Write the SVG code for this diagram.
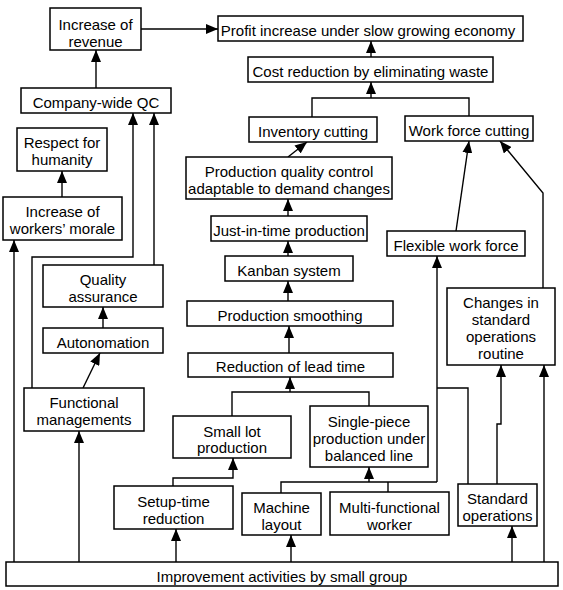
<svg xmlns="http://www.w3.org/2000/svg" width="563" height="590" viewBox="0 0 563 590">
<style>
.box{fill:#fff;stroke:#000;stroke-width:1.5}
.t{font-family:"Liberation Sans",Arial,sans-serif;font-size:15px;fill:#000;text-anchor:middle}
.c{fill:none;stroke:#000;stroke-width:1.4}
</style>
<defs>
<marker id="ah" markerUnits="userSpaceOnUse" markerWidth="12" markerHeight="10" refX="12" refY="5" orient="auto">
<path d="M0,0 L12,5 L0,10 z" fill="#000"/>
</marker>
</defs>
<rect width="563" height="590" fill="#fff"/>
<g id="connectors">
<path class="c" d="M141,29 H218" marker-end="url(#ah)"/>
<path class="c" d="M96,88 V50" marker-end="url(#ah)"/>
<path class="c" d="M62,197 V171" marker-end="url(#ah)"/>
<path class="c" d="M14,562 V240" marker-end="url(#ah)"/>
<path class="c" d="M32,388 V257 H133 V113" marker-end="url(#ah)"/>
<path class="c" d="M154,265 V113" marker-end="url(#ah)"/>
<path class="c" d="M103,328 V307" marker-end="url(#ah)"/>
<path class="c" d="M83,388 L100,353" marker-end="url(#ah)"/>
<path class="c" d="M79,562 V431" marker-end="url(#ah)"/>
<path class="c" d="M371,57 V41" marker-end="url(#ah)"/>
<path class="c" d="M312,117 V98 H469 V116"/>
<path class="c" d="M371,98 V82" marker-end="url(#ah)"/>
<path class="c" d="M288,157 L307,142" marker-end="url(#ah)"/>
<path class="c" d="M288,216 V199" marker-end="url(#ah)"/>
<path class="c" d="M288,256 V241" marker-end="url(#ah)"/>
<path class="c" d="M288,301 V281" marker-end="url(#ah)"/>
<path class="c" d="M289,353 V326" marker-end="url(#ah)"/>
<path class="c" d="M232,416 V392 H369 V406"/>
<path class="c" d="M290,392 V377" marker-end="url(#ah)"/>
<path class="c" d="M173,486 V478 H233 V458" marker-end="url(#ah)"/>
<path class="c" d="M176,562 V529" marker-end="url(#ah)"/>
<path class="c" d="M281,493 V482 H437"/>
<path class="c" d="M388,482 V492"/>
<path class="c" d="M369,482 V467" marker-end="url(#ah)"/>
<path class="c" d="M437,482 V256" marker-end="url(#ah)"/>
<path class="c" d="M468,484 V388 H437"/>
<path class="c" d="M497,484 V424 H501 V365" marker-end="url(#ah)"/>
<path class="c" d="M512,562 V526" marker-end="url(#ah)"/>
<path class="c" d="M544,562 V365" marker-end="url(#ah)"/>
<path class="c" d="M456,231 L469,141" marker-end="url(#ah)"/>
<path class="c" d="M543,288 V193 L500,141" marker-end="url(#ah)"/>
<path class="c" d="M291,562 V535" marker-end="url(#ah)"/>
</g>
<g id="n-revenue"><rect class="box" x="50" y="8" width="91" height="42"/><text class="t" x="95.5" y="30">Increase of</text><text class="t" x="95.5" y="47">revenue</text></g>
<g id="n-profit"><rect class="box" x="218" y="16" width="305" height="25"/><text class="t" x="368" y="36">Profit increase under slow growing economy</text></g>
<g id="n-cost"><rect class="box" x="248" y="57" width="245" height="25"/><text class="t" x="370.5" y="77">Cost reduction by eliminating waste</text></g>
<g id="n-cqc"><rect class="box" x="21" y="88" width="150" height="25"/><text class="t" x="96" y="108">Company-wide QC</text></g>
<g id="n-inventory"><rect class="box" x="249" y="117" width="128" height="25"/><text class="t" x="313" y="137">Inventory cutting</text></g>
<g id="n-workforce"><rect class="box" x="405" y="116" width="128" height="25"/><text class="t" x="469" y="136">Work force cutting</text></g>
<g id="n-respect"><rect class="box" x="17" y="128" width="90" height="43"/><text class="t" x="62" y="148">Respect for</text><text class="t" x="62" y="165">humanity</text></g>
<g id="n-pqc"><rect class="box" x="186" y="157" width="206" height="42"/><text class="t" x="289" y="177">Production quality control</text><text class="t" x="289" y="194">adaptable to demand changes</text></g>
<g id="n-morale"><rect class="box" x="3" y="197" width="119" height="43"/><text class="t" x="62.5" y="217">Increase of</text><text class="t" x="62.5" y="234">workers’ morale</text></g>
<g id="n-jit"><rect class="box" x="211" y="216" width="156" height="25"/><text class="t" x="289" y="236">Just-in-time production</text></g>
<g id="n-flexible"><rect class="box" x="387" y="231" width="138" height="25"/><text class="t" x="456" y="251">Flexible work force</text></g>
<g id="n-kanban"><rect class="box" x="225" y="256" width="128" height="25"/><text class="t" x="289" y="276">Kanban system</text></g>
<g id="n-qa"><rect class="box" x="43" y="265" width="120" height="42"/><text class="t" x="103" y="285">Quality</text><text class="t" x="103" y="302">assurance</text></g>
<g id="n-changes"><rect class="box" x="447" y="288" width="108" height="77"/><text class="t" x="501" y="308">Changes in</text><text class="t" x="501" y="325">standard</text><text class="t" x="501" y="342">operations</text><text class="t" x="501" y="359">routine</text></g>
<g id="n-smoothing"><rect class="box" x="187" y="301" width="206" height="25"/><text class="t" x="290" y="321">Production smoothing</text></g>
<g id="n-autonomation"><rect class="box" x="43" y="328" width="120" height="25"/><text class="t" x="103" y="348">Autonomation</text></g>
<g id="n-leadtime"><rect class="box" x="188" y="353" width="205" height="24"/><text class="t" x="290.5" y="372">Reduction of lead time</text></g>
<g id="n-functional"><rect class="box" x="24" y="388" width="120" height="43"/><text class="t" x="84" y="408">Functional</text><text class="t" x="84" y="425">managements</text></g>
<g id="n-singlepiece"><rect class="box" x="310" y="406" width="118" height="61"/><text class="t" x="369" y="427">Single-piece</text><text class="t" x="369" y="444">production under</text><text class="t" x="369" y="461">balanced line</text></g>
<g id="n-smalllot"><rect class="box" x="173" y="416" width="118" height="42"/><text class="t" x="232" y="437">Small lot</text><text class="t" x="232" y="453">production</text></g>
<g id="n-standard"><rect class="box" x="458" y="484" width="79" height="42"/><text class="t" x="497.5" y="504">Standard</text><text class="t" x="497.5" y="521">operations</text></g>
<g id="n-setup"><rect class="box" x="114" y="486" width="119" height="43"/><text class="t" x="173.5" y="507">Setup-time</text><text class="t" x="173.5" y="524">reduction</text></g>
<g id="n-machine"><rect class="box" x="242" y="493" width="79" height="42"/><text class="t" x="281.5" y="513">Machine</text><text class="t" x="281.5" y="530">layout</text></g>
<g id="n-multi"><rect class="box" x="330" y="492" width="119" height="43"/><text class="t" x="389.5" y="513">Multi-functional</text><text class="t" x="389.5" y="530">worker</text></g>
<g id="n-improvement"><rect class="box" x="6" y="562" width="552" height="24"/><text class="t" x="282" y="582">Improvement activities by small group</text></g>
</svg>
